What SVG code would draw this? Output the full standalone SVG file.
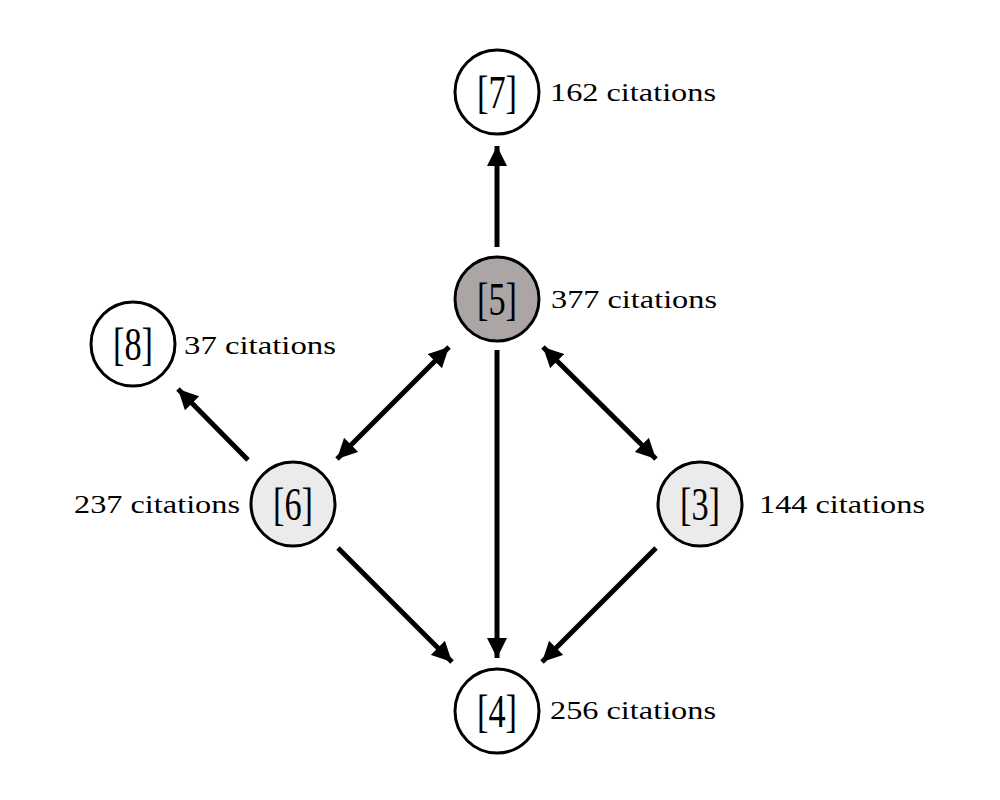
<svg xmlns="http://www.w3.org/2000/svg" width="1000" height="800" viewBox="0 0 1000 800">
<defs>
<style>
.node circle{stroke:#000;stroke-width:3}
.lbl{font-family:"Liberation Serif","DejaVu Serif",serif;font-size:46px;text-anchor:middle}
.cit{font-family:"Liberation Serif","DejaVu Serif",serif;font-size:25px}
.edge{stroke:#000;stroke-width:5;fill:none}
</style>
<marker id="ah" viewBox="0 0 10 10" refX="10" refY="5" markerWidth="4" markerHeight="4" markerUnits="strokeWidth" orient="auto-start-reverse">
<path d="M0,0 L10,5 L0,10 z" fill="#000"/>
</marker>
</defs>
<rect width="1000" height="800" fill="#fff"/>
<g id="connectors">
<line class="edge" x1="497" y1="247" x2="497" y2="146" marker-end="url(#ah)"/>
<line class="edge" x1="449" y1="347" x2="337" y2="459" marker-start="url(#ah)" marker-end="url(#ah)"/>
<line class="edge" x1="543" y1="347" x2="656" y2="459" marker-start="url(#ah)" marker-end="url(#ah)"/>
<line class="edge" x1="497" y1="350" x2="497" y2="658" marker-end="url(#ah)"/>
<line class="edge" x1="248" y1="460" x2="178" y2="389" marker-end="url(#ah)"/>
<line class="edge" x1="338" y1="548" x2="452" y2="662" marker-end="url(#ah)"/>
<line class="edge" x1="656" y1="548" x2="542" y2="662" marker-end="url(#ah)"/>
</g>
<g id="n7" class="node"><circle cx="497" cy="92" r="42" fill="#fff"/><text class="lbl" x="497" y="108" textLength="40" lengthAdjust="spacingAndGlyphs">[7]</text><text class="cit" x="550" y="101" textLength="166" lengthAdjust="spacingAndGlyphs">162 citations</text></g>
<g id="n5" class="node"><circle cx="497" cy="299" r="42" fill="#aba5a5"/><text class="lbl" x="497" y="315" textLength="40" lengthAdjust="spacingAndGlyphs">[5]</text><text class="cit" x="551" y="308" textLength="166" lengthAdjust="spacingAndGlyphs">377 citations</text></g>
<g id="n8" class="node"><circle cx="133" cy="344" r="42" fill="#fff"/><text class="lbl" x="133" y="360" textLength="40" lengthAdjust="spacingAndGlyphs">[8]</text><text class="cit" x="184" y="354" textLength="152" lengthAdjust="spacingAndGlyphs">37 citations</text></g>
<g id="n6" class="node"><circle cx="293" cy="504" r="42" fill="#ebebeb"/><text class="lbl" x="293" y="520" textLength="40" lengthAdjust="spacingAndGlyphs">[6]</text><text class="cit" x="74" y="513" textLength="166" lengthAdjust="spacingAndGlyphs">237 citations</text></g>
<g id="n3" class="node"><circle cx="700" cy="504" r="42" fill="#ebebeb"/><text class="lbl" x="700" y="520" textLength="40" lengthAdjust="spacingAndGlyphs">[3]</text><text class="cit" x="759" y="513" textLength="166" lengthAdjust="spacingAndGlyphs">144 citations</text></g>
<g id="n4" class="node"><circle cx="497" cy="711" r="42" fill="#fff"/><text class="lbl" x="497" y="727" textLength="40" lengthAdjust="spacingAndGlyphs">[4]</text><text class="cit" x="550" y="719" textLength="166" lengthAdjust="spacingAndGlyphs">256 citations</text></g>
</svg>
